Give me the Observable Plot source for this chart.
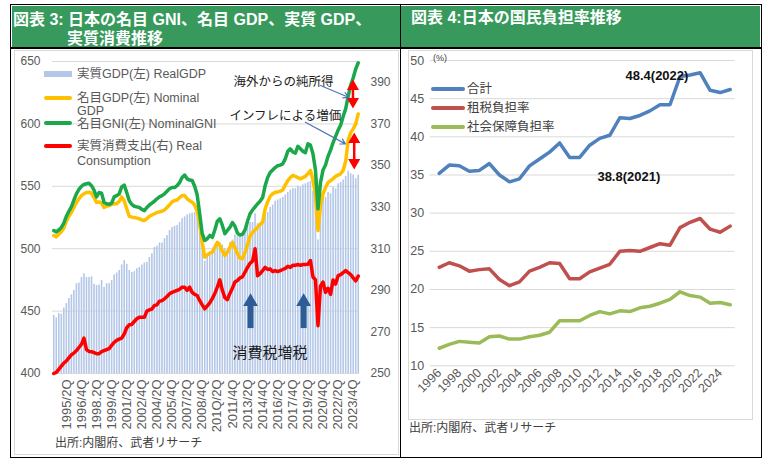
<!DOCTYPE html>
<html><head><meta charset="utf-8">
<script src="https://cdn.jsdelivr.net/npm/d3@7"></script>
<script src="https://cdn.jsdelivr.net/npm/@observablehq/plot@0.6"></script>
<style>
body{margin:0;background:#fff;font-family:"Liberation Sans",Arial,"Noto Sans CJK JP",sans-serif;}
#root{position:relative;width:768px;height:468px;overflow:hidden;background:#fff;}
.abs{position:absolute;white-space:nowrap;}
.title{background:#379a5c;color:#fff;font-weight:bold;font-size:16px;}
.lg{font-size:12.5px;color:#595959;line-height:12px;}
.lgr{font-size:12.5px;color:#404040;line-height:14px;}
.src{font-size:12px;color:#404040;line-height:14px;}
</style></head><body><div id="root"></div>
<script>
// ---------- Left chart data (quarterly, 1994Q1 .. 2024Q2) ----------
const realGDP = [
446.5,444.5,448,447.5,452.5,456,460,463,466.5,472,
472.5,477,480,477,477,477.5,471.5,470.5,471,474.5,
469,472,472,474.5,479,480.5,482.5,487,490.5,487.5,
482.5,481,481.5,484,485,487,488.5,489,493,496,
501,502,504.5,504.5,508,510.5,514.5,517,518,518.5,
521,524,525.5,527,528,528.5,529,525,521,508,
490,494,496,499,502,504,505,503,500,498,
505,507,511,510,509,510,516,519,521,521,
528,520,519,521,527,529,533,535,538,539,
540,541,543,545,547,548,548,550,549,551,
552,553,554,546,545,507,535,540,541,545,
544,549,548,552,553,555,558,562,560,559,
556,559];
const nominalGDP = [
510.6,509.5,511.5,513.5,516.5,522,526,529,533,537,
540,542.5,544,545,545.3,544.5,541,537,537.5,536.5,
533,534,534.5,535.5,536,536,538,541.5,538.5,532,
526,525.3,525,524.5,524,523,522.6,524,526,527,
528,529,529.5,530,531,533,535,537.5,538.6,539,
541,542.6,542.6,540,538.5,537.3,535,530,520,505,
493.2,495,496.5,497.2,501.2,505.2,502.6,498,494.6,497.2,
501.2,505,501,496,492.5,492,497,503,510,513,
515,517,519.5,521.3,532,537.5,542,544,545.3,545.5,
546,547,551,554.6,557,558.7,558,557,556,557,
558,560,562.7,555,543,514.6,535,544,549,553,
554.5,556,558,559,560,562.7,570,587,593,596,
600,608];
const nominalGNI = [
514.6,513.5,515,517,520.5,526,530,533.5,539,544,
547.5,550,551.5,552,552.5,550.5,547,541.5,545,544.5,
537,536,535.5,536.5,541.5,542.5,544,549.5,551,545,
538.5,535.5,534,533.5,533,531.5,530.5,533,535,536.5,
538,540,541.5,542.5,544,546,548,549,549,550.5,
553,557,559,556,555,554.6,550,543,528,512,
506.6,508,510.6,509,515,522,524,518.6,512,514.6,
517,521,518,512.5,511,511.5,515,522,528,531,
533.5,536,538,541,550.5,557,561,563,565,566.5,
567,568,572,578,580,577.5,576.5,582,580,578,
577,584,583,576,563,532,553,563,567,574,
579,585,590,595,599,606,612,622,631,637,
644,649];
const realConsumption = [
250,250.5,252,253.5,255,256,257.5,259,259.8,261,
262.5,264,267,261.5,260.6,260.5,260,259.5,259.5,260.5,
261,261.5,262,263.5,265,265.9,266.5,267,269,272,
273.4,273.6,275,276.3,277,277,277,280,280.6,281,
282.7,283,284.8,285,285.9,287,288.3,289,289.5,290,
290.5,291.5,291.5,290,291.5,289,288,287.5,285,283,
281.1,282.5,284,286,288.5,291.5,295,290,286.5,285.5,
288.5,291,294,294.7,296,296.5,298.7,301,303,304,
310,297,298,299.5,301,300,300.3,299,299.5,299,
299.5,300,300.5,301.5,301,302,302,302.4,302,302.4,
302.4,302.5,304.3,296.5,295,273,292,294,289,291,
288,295,293,297,297.5,298.5,299.5,298.5,297.5,296,
294.5,296.8];
const xTickLabels = ["1995/2Q","1996/4Q","1998.2Q","1999/4Q","2001/2Q","2002/4Q","2004/2Q","2005/4Q","2007/2Q","2008/4Q","201Q/2Q","2011/4Q","2013/2Q","2014/4Q","2016/2Q","2017/4Q","2019/2Q","2020/4Q","2022/2Q","2023/4Q"];
const leftTicks = [400,450,500,550,600,650];
const rightTicks = [250,270,290,310,330,350,370,390];

// annotations (quarter index, left-axis value)
const noteTexts = [
  {text:"海外からの純所得", i:71.4, v:633.3},
  {text:"インフレによる増価", i:69.8, v:606}
];
const noteArrows = [
  {i1:106, v1:630.8, i2:117.1, v2:621.4},
  {i1:100, v1:601.4, i2:115.9, v2:584}
];
const gapArrows = [
  {i:118.9, top:630, bot:618},
  {i:119.4, top:587.5, bot:569}
];
const taxHikes = [{i:78.2, base:436, neck:455, head:457.5},{i:99.3, base:436, neck:455, head:457.5}];
const taxLabel = [{text:"消費税増税", i:85.9, v:416}];

// ---------- Right chart data (annual) ----------
const years = [1996,1997,1998,1999,2000,2001,2002,2003,2004,2005,2006,2007,2008,2009,2010,2011,2012,2013,2014,2015,2016,2017,2018,2019,2020,2021,2022,2023,2024,2025];
const totalBurden = [35.2,36.3,36.2,35.5,35.6,36.5,35.0,34.1,34.5,36.2,37.1,38.0,39.2,37.3,37.3,38.9,39.8,40.2,42.5,42.4,42.8,43.4,44.2,44.2,47.9,48.1,48.4,46.1,45.8,46.2];
const taxBurden = [22.9,23.5,23.1,22.4,22.6,22.7,21.3,20.5,21.0,22.4,22.9,23.5,23.4,21.4,21.4,22.3,22.8,23.3,25.0,25.1,25.0,25.5,26.0,25.8,28.1,28.8,29.3,27.9,27.5,28.3];
const socialBurden = [12.3,12.8,13.2,13.1,13.0,13.8,13.9,13.5,13.5,13.8,14.0,14.4,15.9,15.9,15.9,16.6,17.1,16.8,17.2,17.1,17.6,17.8,18.2,18.7,19.7,19.2,19.0,18.2,18.3,18.0];
const yearTicks = [1996,1998,2000,2002,2004,2006,2008,2010,2012,2014,2016,2018,2020,2022,2024];
const rightNotes = [{text:"48.4(2022)", x:2017.7, y:48.0},{text:"38.8(2021)", x:2014.9, y:34.7}];

const FONT = '"Liberation Sans", Arial, "Noto Sans CJK JP", sans-serif';
const root = document.getElementById("root");
function add(html){ root.insertAdjacentHTML("beforeend", html); }

// frame / title bars
add(`<div class="abs" style="left:10px;top:4px;width:750px;height:452px;border:1.5px solid #000;"></div>`);
add(`<div class="abs" style="left:399.5px;top:4px;width:1.5px;height:453px;background:#000;"></div>`);
add(`<div class="abs title" style="left:11.5px;top:5.5px;width:388px;height:42px;"></div>`);
add(`<div class="abs title" style="left:401px;top:5.5px;width:359px;height:42px;"></div>`);
add(`<div class="abs" style="left:10px;top:47px;width:751px;height:1.5px;background:#000;"></div>`);
add(`<div class="abs title" style="left:13px;top:11px;background:none;line-height:18px;">図表 3: 日本の名目 GNI、名目 GDP、実質 GDP、</div>`);
add(`<div class="abs title" style="left:67px;top:30px;background:none;line-height:18px;">実質消費推移</div>`);
add(`<div class="abs title" style="left:411px;top:9px;background:none;line-height:18px;">図表 4:日本の国民負担率推移</div>`);
// chart area borders
add(`<div class="abs" style="left:14px;top:50px;width:383px;height:403px;border:1px solid #d9d9d9;"></div>`);
add(`<div class="abs" style="left:408px;top:50px;width:343px;height:368px;border:1px solid #d9d9d9;"></div>`);

// ---------- Left plot ----------
const toLeft = r => 400 + (r - 250) / 0.6;
const rows = realGDP.map((v, i) => ({i, real: v, ngdp: nominalGDP[i], gni: nominalGNI[i], cons: toLeft(realConsumption[i])}));
const tickIdx = xTickLabels.map((_, k) => 5 + 6 * k);
const heads = gapArrows.flatMap(d => [{x:d.i, y:d.top, rot:0},{x:d.i, y:d.bot, rot:180}]);

const leftPlot = Plot.plot({
  width: 386, height: 400,
  marginLeft: 40, marginRight: 39, marginTop: 11, marginBottom: 77,
  x: {domain: [-0.5, 121.5]},
  y: {domain: [400, 650]},
  style: {fontFamily: FONT, fontSize: "12px", color: "#595959", background: "transparent", overflow: "visible"},
  marks: [
    Plot.gridY(leftTicks, {stroke: "#d9d9d9", strokeOpacity: 1}),
    Plot.ruleX(rows, {x: "i", y1: 400, y2: "real", stroke: "#b4c7e7", strokeWidth: 1.6}),
    Plot.line(rows, {x: "i", y: "ngdp", stroke: "#ffc000", strokeWidth: 3.5, strokeLinejoin: "round"}),
    Plot.line(rows, {x: "i", y: "gni", stroke: "#1aa84b", strokeWidth: 3.5, strokeLinejoin: "round"}),
    Plot.line(rows, {x: "i", y: "cons", stroke: "#ff0000", strokeWidth: 3.5, strokeLinejoin: "round"}),
    Plot.axisY(leftTicks, {anchor: "left", tickSize: 0, tickPadding: 12, label: null, fontSize: 12}),
    Plot.axisY(rightTicks.map(toLeft), {anchor: "right", tickSize: 0, tickPadding: 11, label: null, fontSize: 12,
      tickFormat: d => String(Math.round(250 + (d - 400) * 0.6))}),
    Plot.axisX(tickIdx, {anchor: "bottom", tickSize: 0, tickPadding: 6, tickRotate: -90, label: null, fontSize: 13,
      tickFormat: d => xTickLabels[(d - 5) / 6]}),
    Plot.text(noteTexts, {x: "i", y: "v", text: "text", textAnchor: "start", fontSize: 12.5, fill: "#1a1a1a"}),
    Plot.arrow(noteArrows, {x1: "i1", y1: "v1", x2: "i2", y2: "v2", stroke: "#4f77b3", strokeWidth: 1.2, headLength: 7}),
    Plot.ruleX(gapArrows, {x: "i", y1: "bot", y2: "top", stroke: "#ff0000", strokeWidth: 2.5}),
    Plot.dot(heads, {x: "x", y: "y", rotate: "rot", symbol: "triangle", r: 4.5, fill: "#ff0000", stroke: "none"}),
    Plot.ruleX(taxHikes, {x: "i", y1: "base", y2: "neck", stroke: "#2e5d96", strokeWidth: 6}),
    Plot.dot(taxHikes, {x: "i", y: "head", symbol: "triangle", r: 5.5, fill: "#2e5d96", stroke: "none"}),
    Plot.text(taxLabel, {x: "i", y: "v", text: "text", fontSize: 15, fill: "#1a1a1a"})
  ]
});
const lwrap = document.createElement("div");
lwrap.className = "abs"; lwrap.style.left = "12px"; lwrap.style.top = "50px";
lwrap.appendChild(leftPlot); root.appendChild(lwrap);

// left legend
add(`<div class="abs" style="left:44px;top:71px;width:28px;height:6px;background:#b4c7e7;"></div>`);
add(`<div class="abs lg" style="left:77px;top:68px;">実質GDP(左) RealGDP</div>`);
add(`<div class="abs" style="left:44px;top:96px;width:28px;height:4px;border-radius:2px;background:#ffc000;"></div>`);
add(`<div class="abs lg" style="left:77px;top:92px;">名目GDP(左) Nominal</div>`);
add(`<div class="abs lg" style="left:77px;top:105px;">GDP</div>`);
add(`<div class="abs" style="left:44px;top:121px;width:28px;height:4px;border-radius:2px;background:#1aa84b;"></div>`);
add(`<div class="abs lg" style="left:77px;top:117.5px;">名目GNI(左) NominalGNI</div>`);
add(`<div class="abs" style="left:44px;top:144px;width:28px;height:4px;border-radius:2px;background:#ff0000;"></div>`);
add(`<div class="abs lg" style="left:77px;top:140px;">実質消費支出(右) Real</div>`);
add(`<div class="abs lg" style="left:77px;top:155px;">Consumption</div>`);
add(`<div class="abs src" style="left:55px;top:436px;">出所:内閣府、武者リサーチ</div>`);

// ---------- Right plot ----------
const yrows = years.map((y, k) => ({y, total: totalBurden[k], tax: taxBurden[k], social: socialBurden[k]}));
const rightPlot = Plot.plot({
  width: 356, height: 380,
  marginLeft: 27.7, marginRight: 23.3, marginTop: 10, marginBottom: 64.7,
  x: {domain: [1995.1, 2025.5]},
  y: {domain: [10, 50]},
  style: {fontFamily: FONT, fontSize: "12px", color: "#595959", background: "transparent", overflow: "visible"},
  marks: [
    Plot.gridY([10,15,20,25,30,35,40,45,50], {stroke: "#d9d9d9", strokeOpacity: 1}),
    Plot.line(yrows, {x: "y", y: "social", stroke: "#9bbb59", strokeWidth: 3.5, strokeLinejoin: "round"}),
    Plot.line(yrows, {x: "y", y: "tax", stroke: "#c0504d", strokeWidth: 3.5, strokeLinejoin: "round"}),
    Plot.line(yrows, {x: "y", y: "total", stroke: "#4f81bd", strokeWidth: 3.5, strokeLinejoin: "round"}),
    Plot.axisY([10,15,20,25,30,35,40,45,50], {anchor: "left", tickSize: 0, tickPadding: 6, label: null, fontSize: 12.5}),
    Plot.axisX(yearTicks, {anchor: "bottom", tickSize: 0, tickPadding: 5, tickRotate: -45, label: null, fontSize: 12.5,
      tickFormat: d => String(d)}),
    Plot.text(rightNotes, {x: "x", y: "y", text: "text", fontSize: 13, fontWeight: "bold", fill: "#111"})
  ]
});
const rwrap = document.createElement("div");
rwrap.className = "abs"; rwrap.style.left = "402px"; rwrap.style.top = "50px";
rwrap.appendChild(rightPlot); root.appendChild(rwrap);

add(`<div class="abs" style="left:433px;top:53px;font-size:9px;color:#404040;">(%)</div>`);
add(`<div class="abs" style="left:431px;top:87px;width:34px;height:4px;border-radius:2px;background:#4f81bd;"></div>`);
add(`<div class="abs lgr" style="left:467px;top:82px;">合計</div>`);
add(`<div class="abs" style="left:431px;top:106px;width:34px;height:4px;border-radius:2px;background:#c0504d;"></div>`);
add(`<div class="abs lgr" style="left:467px;top:101px;">租税負担率</div>`);
add(`<div class="abs" style="left:431px;top:125px;width:34px;height:4px;border-radius:2px;background:#9bbb59;"></div>`);
add(`<div class="abs lgr" style="left:467px;top:120px;">社会保障負担率</div>`);
add(`<div class="abs src" style="left:409px;top:421px;">出所:内閣府、武者リサーチ</div>`);
</script>
</body></html>
